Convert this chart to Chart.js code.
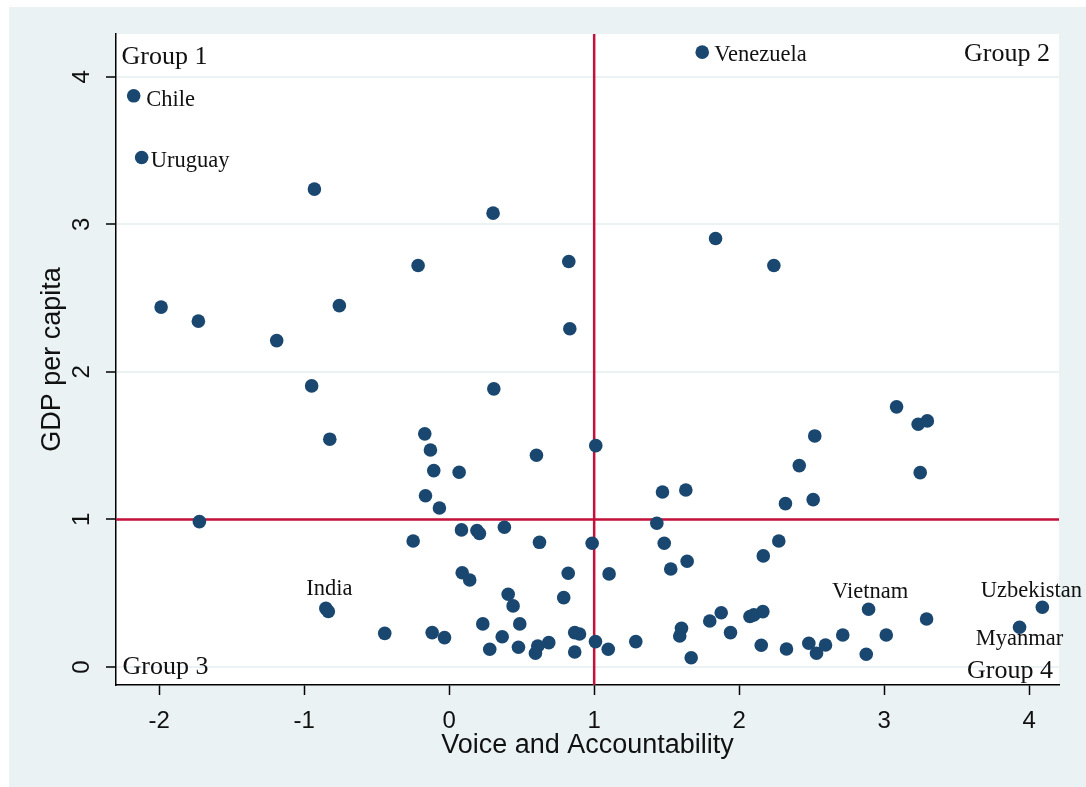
<!DOCTYPE html>
<html>
<head>
<meta charset="utf-8">
<script src="https://cdn.jsdelivr.net/npm/chart.js@4.4.1/dist/chart.umd.min.js"></script>
<style>
  html, body { margin: 0; padding: 0; background: #ffffff; }
  canvas { display: block; }
</style>
</head>
<body>
<canvas id="chart" width="1086" height="787"></canvas>
<script>
// Voice and Accountability score (x) and GDP per capita (y) for each country
const voiceAccountability = [
  -2.175, -2.12, -0.929, 1.745, 0.303, 0.825, 1.837, 2.239, -0.214, -1.986,
  -1.729, -1.189, -0.757, -0.948, -0.823, -1.722, 0.832, 0.308, -0.168, -0.129,
  -0.106, 0.069, -0.163, -0.067, 0.602, 1.011, 1.471, 1.632, 1.432, -0.248,
  0.085, 0.192, 0.209, 0.381, 0.623, 0.986, 1.483, 1.528, 1.641, 2.166,
  2.273, 2.319, 2.51, 2.414, 2.521, 3.085, 3.234, 3.297, 3.248, -0.85,
  -0.833, -0.444, -0.117, -0.032, 0.09, 0.142, 0.232, 0.28, 0.366, 0.407,
  0.441, 0.487, 0.478, 0.595, 0.611, 0.687, 0.79, 0.821, 0.866, 0.899,
  0.866, 1.009, 1.103, 1.097, 1.287, 1.602, 1.59, 1.669, 1.797, 1.876,
  1.94, 2.074, 2.101, 2.163, 2.152, 2.326, 2.48, 2.533, 2.595, 2.714,
  2.876, 2.892, 3.014, 3.292, 3.933, 4.09
];
const gdpPerCapita = [
  3.871, 3.453, 3.239, 4.167, 3.076, 2.748, 2.904, 2.721, 2.721, 2.439,
  2.344, 2.212, 2.449, 1.905, 1.544, 0.985, 2.292, 1.885, 1.58, 1.471,
  1.331, 1.32, 1.161, 1.078, 1.435, 1.50, 1.186, 1.2, 0.974, 0.854,
  0.929, 0.925, 0.905, 0.947, 0.845, 0.839, 0.839, 0.664, 0.717, 0.753,
  0.854, 1.107, 1.134, 1.365, 1.566, 1.763, 1.645, 1.668, 1.317, 0.397,
  0.376, 0.228, 0.233, 0.199, 0.639, 0.59, 0.292, 0.12, 0.205, 0.493,
  0.414, 0.292, 0.134, 0.093, 0.142, 0.165, 0.47, 0.635, 0.233, 0.224,
  0.102, 0.172, 0.631, 0.12, 0.172, 0.262, 0.21, 0.063, 0.312, 0.368,
  0.233, 0.342, 0.353, 0.375, 0.147, 0.122, 0.161, 0.093, 0.149, 0.217,
  0.086, 0.391, 0.217, 0.325, 0.269, 0.405
];
const countryNames = voiceAccountability.map(() => '');
countryNames[0] = 'Chile';
countryNames[1] = 'Uruguay';
countryNames[3] = 'Venezuela';
countryNames[49] = 'India';
countryNames[91] = 'Vietnam';
countryNames[94] = 'Myanmar';
countryNames[95] = 'Uzbekistan';

const xTicks = [-2, -1, 0, 1, 2, 3, 4];
const yTicks = [0, 1, 2, 3, 4];
const groupNames = ['Group 1', 'Group 2', 'Group 3', 'Group 4'];
const vaThreshold = 1;
const gdpThreshold = 1;

// marker label placement (offsets from the marker centre, in px)
const labelPlacement = {
  Chile:      { dx: 12.5, dy: 10,  align: 'left' },
  Uruguay:    { dx: 9,    dy: 9,   align: 'left' },
  Venezuela:  { dx: 12,   dy: 8.5, align: 'left' },
  India:      { dx: 3.5,  dy: -13, align: 'center' },
  Vietnam:    { dx: 1.5,  dy: -11, align: 'center' },
  Uzbekistan: { dx: -11,  dy: -10, align: 'center' },
  Myanmar:    { dx: 0,    dy: 18,  align: 'center' }
};

const SERIF = '"Liberation Serif", "Times New Roman", serif';
const SANS = '"Liberation Sans", Arial, sans-serif';
const FRAME_BG = '#eaf2f3';
const MARKER = '#1a476f';
const REFLINE = '#c5103a';

const points = voiceAccountability.map((v, i) => ({ x: v, y: gdpPerCapita[i] }));

const backgroundPlugin = {
  id: 'stataBackground',
  beforeDraw(chart) {
    const { ctx, chartArea: a } = chart;
    ctx.save();
    ctx.fillStyle = '#ffffff';
    ctx.fillRect(0, 0, chart.width, chart.height);
    ctx.fillStyle = FRAME_BG;
    ctx.fillRect(9, 7, chart.width - 9, chart.height - 7);
    ctx.fillStyle = '#ffffff';
    ctx.fillRect(a.left, a.top, a.right - a.left, a.bottom - a.top);
    ctx.restore();
  }
};

const refLinePlugin = {
  id: 'refLines',
  beforeDatasetsDraw(chart) {
    const { ctx, chartArea: a, scales: { x, y } } = chart;
    const px = x.getPixelForValue(vaThreshold);
    const py = y.getPixelForValue(gdpThreshold);
    ctx.save();
    ctx.strokeStyle = REFLINE;
    ctx.lineWidth = 2.5;
    ctx.beginPath();
    ctx.moveTo(a.left, py); ctx.lineTo(a.right, py);
    ctx.moveTo(px, a.top); ctx.lineTo(px, a.bottom);
    ctx.stroke();
    ctx.restore();
  }
};

const textPlugin = {
  id: 'textLabels',
  afterDatasetsDraw(chart) {
    const { ctx, chartArea: a, scales: { x, y } } = chart;
    ctx.save();
    ctx.fillStyle = '#111111';
    ctx.textBaseline = 'alphabetic';
    // country labels next to their markers
    ctx.font = '22.5px ' + SERIF;
    countryNames.forEach((name, i) => {
      if (!name) return;
      const p = labelPlacement[name];
      ctx.textAlign = p.align;
      ctx.fillText(name, x.getPixelForValue(voiceAccountability[i]) + p.dx,
                         y.getPixelForValue(gdpPerCapita[i]) + p.dy);
    });
    // quadrant names in the corners
    ctx.font = '26px ' + SERIF;
    ctx.textAlign = 'left';
    ctx.fillText(groupNames[0], a.left + 5.5, a.top + 30);
    ctx.fillText(groupNames[2], a.left + 6.5, a.bottom - 11.5);
    ctx.textAlign = 'right';
    ctx.fillText(groupNames[1], a.right - 9, a.top + 27);
    ctx.fillText(groupNames[3], a.right - 6, a.bottom - 7);
    ctx.restore();
  }
};

new Chart(document.getElementById('chart'), {
  type: 'scatter',
  data: {
    datasets: [{
      data: points,
      backgroundColor: MARKER,
      borderColor: MARKER,
      borderWidth: 0,
      pointRadius: 6.8,
      pointHoverRadius: 6.8
    }]
  },
  options: {
    responsive: false,
    animation: false,
    events: [],
    layout: { padding: { left: 0, top: 34, right: 27, bottom: 0 } },
    plugins: {
      legend: { display: false },
      tooltip: { enabled: false },
      title: { display: false }
    },
    scales: {
      x: {
        type: 'linear',
        min: -2.297,
        max: 4.205,
        afterBuildTicks(scale) { scale.ticks = xTicks.map(v => ({ value: v })); },
        afterFit(scale) { scale.height = 102; },
        border: { display: true, color: '#000000', width: 1.5 },
        grid: { drawOnChartArea: false, drawTicks: true, tickLength: 10, tickColor: '#000000', tickWidth: 1.5 },
        ticks: {
          color: '#111111',
          font: { family: SANS, size: 24 },
          padding: 12,
          maxRotation: 0,
          callback: v => String(v)
        },
        title: {
          display: true,
          text: 'Voice and Accountability',
          color: '#111111',
          font: { family: SANS, size: 27 },
          padding: { top: 0, bottom: 25 }
        }
      },
      y: {
        type: 'linear',
        min: -0.122,
        max: 4.29,
        afterBuildTicks(scale) { scale.ticks = yTicks.map(v => ({ value: v })); },
        afterFit(scale) { scale.width = 116; },
        border: { display: true, color: '#000000', width: 1.5 },
        grid: { color: FRAME_BG, lineWidth: 2, drawTicks: true, tickLength: 10, tickColor: '#000000', tickWidth: 1.5 },
        ticks: {
          color: '#111111',
          font: { family: SANS, size: 24 },
          padding: 17,
          minRotation: 90,
          maxRotation: 90,
          crossAlign: 'center',
          callback: v => String(v)
        },
        title: {
          display: true,
          text: 'GDP per capita',
          color: '#111111',
          font: { family: SANS, size: 27 },
          padding: { top: 36, bottom: 0 }
        }
      }
    }
  },
  plugins: [backgroundPlugin, refLinePlugin, textPlugin]
});
</script>
</body>
</html>
